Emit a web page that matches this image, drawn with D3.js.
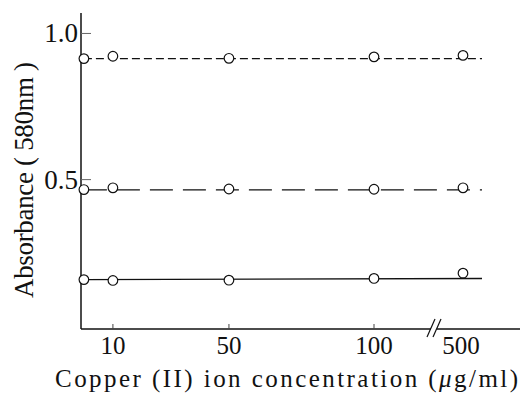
<!DOCTYPE html>
<html>
<head>
<meta charset="utf-8">
<script src="https://cdn.jsdelivr.net/npm/d3@7"></script>
<style>
  html, body { margin: 0; padding: 0; background: #fff; }
  svg { display: block; }
</style>
</head>
<body>
<svg id="chart" width="531" height="396"></svg>
<script>
// ---- data ----
const concentrations = [0, 10, 50, 100, 500];
const xTickValues = [10, 50, 100, 500];
const xTickLabels = ["10", "50", "100", "500"];
const yTickValues = [0.5, 1.0];
const yTickLabels = ["0.5", "1.0"];

const seriesHigh = [0.914, 0.922, 0.915, 0.920, 0.925];
const seriesMid  = [0.466, 0.472, 0.468, 0.467, 0.472];
const seriesLow  = [0.158, 0.155, 0.156, 0.162, 0.180];
// fitted (flat) lines: [start value, end value]
const fitHigh = [0.914, 0.914];
const fitMid  = [0.465, 0.465];
const fitLow  = [0.158, 0.162];
const fitXRange = [0, 520];
const dashStyles = ["8,4", "23,10", null];

const xTitleParts = ["Copper (II) ion concentration (", "\u03bc", "g/ml)"];
const yTitle = "Absorbance ( 580nm )";

const FONT = "'Liberation Serif', 'Times New Roman', 'DejaVu Serif', serif";

// ---- scales ----
const svg = d3.select("#chart");
const x = d3.scaleLinear().domain([-1, 100, 500, 560]).range([81, 374, 463, 520]);
const y = d3.scaleLinear().domain([-0.011, 1.07]).range([329, 13]);

// axes lines
svg.append("line").attr("x1", x(-1)).attr("x2", x(-1)).attr("y1", y(1.07)).attr("y2", y(-0.011))
  .attr("stroke", "#111").attr("stroke-width", 1.5);
svg.append("line").attr("x1", x(-1)).attr("x2", x(560)).attr("y1", y(-0.011)).attr("y2", y(-0.011))
  .attr("stroke", "#111").attr("stroke-width", 1.5);

// x ticks (inward)
xTickValues.forEach((v, i) => {
  if (v !== 500) {
    svg.append("line").attr("x1", x(v)).attr("x2", x(v))
      .attr("y1", y(-0.011)).attr("y2", y(-0.011) - 5).attr("stroke", "#444").attr("stroke-width", 1);
  }
  svg.append("text").attr("x", x(v) - (v === 500 ? 2 : 0)).attr("y", 354)
    .attr("text-anchor", "middle").attr("font-family", FONT).attr("font-size", 25)
    .attr("fill", "#111").text(xTickLabels[i]);
});

// break marks
const bx = 434, by = y(-0.011);
svg.append("rect").attr("x", bx - 3).attr("y", by - 1).attr("width", 6).attr("height", 2).attr("fill", "#fff");
[-3, 3].forEach(o => {
  svg.append("line").attr("x1", bx + o - 4).attr("y1", by + 8).attr("x2", bx + o + 4).attr("y2", by - 10)
    .attr("stroke", "#111").attr("stroke-width", 1.2);
});

// y ticks (inward)
yTickValues.forEach((v, i) => {
  svg.append("line").attr("x1", x(-1)).attr("x2", x(-1) + 10).attr("y1", y(v)).attr("y2", y(v))
    .attr("stroke", "#666").attr("stroke-width", 1);
  svg.append("text").attr("x", 78).attr("y", y(v) + 9)
    .attr("text-anchor", "end").attr("font-family", FONT).attr("font-size", 27)
    .attr("fill", "#111").text(yTickLabels[i]);
});

// series
const seriesValues = [seriesHigh, seriesMid, seriesLow];
const fits = [fitHigh, fitMid, fitLow];
const lineGen = d3.line().x(d => x(d[0])).y(d => y(d[1]));
seriesValues.forEach((vals, s) => {
  const fitPts = [[fitXRange[0], fits[s][0]], [fitXRange[1], fits[s][1]]];
  const path = svg.append("path").datum(fitPts).attr("d", lineGen)
    .attr("fill", "none").attr("stroke", "#111").attr("stroke-width", 1.4);
  if (dashStyles[s]) path.attr("stroke-dasharray", dashStyles[s]);
  svg.append("g").selectAll("circle").data(concentrations.map((c, i) => [c, vals[i]]))
    .join("circle").attr("cx", d => x(d[0])).attr("cy", d => y(d[1])).attr("r", 4.8)
    .attr("fill", "#fff").attr("stroke", "#111").attr("stroke-width", 1.2);
});

// titles
const xt = svg.append("text").attr("x", 55).attr("y", 387).attr("font-family", FONT).attr("font-size", 25)
  .attr("fill", "#111").attr("textLength", 463).attr("lengthAdjust", "spacing");
xt.append("tspan").text(xTitleParts[0]);
xt.append("tspan").attr("font-style", "italic").text(xTitleParts[1]);
xt.append("tspan").text(xTitleParts[2]);
svg.append("text").attr("transform", "translate(33,298) rotate(-90)").attr("font-family", FONT)
  .attr("font-size", 27).attr("fill", "#111")
  .attr("textLength", 236).attr("lengthAdjust", "spacing").text(yTitle);
</script>
</body>
</html>
